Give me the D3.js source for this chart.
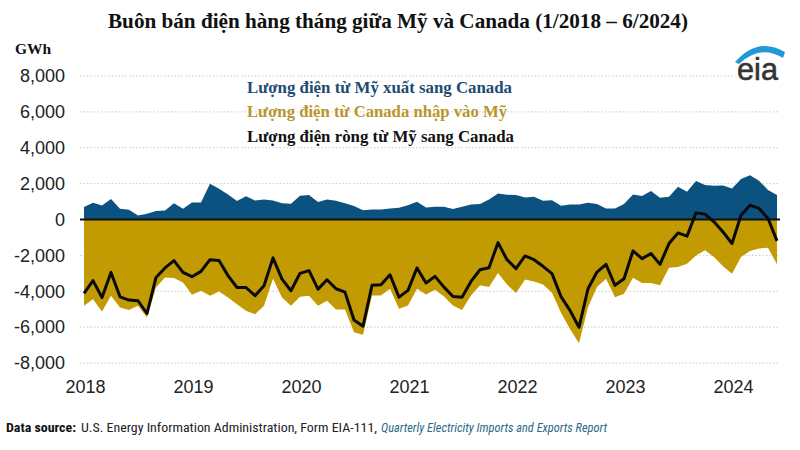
<!DOCTYPE html>
<html><head><meta charset="utf-8">
<script src="https://cdn.jsdelivr.net/npm/d3@7"></script>
<style>body{margin:0;background:#fff}svg{display:block}</style>
</head><body>
<svg id="c" width="800" height="450"></svg>
<script>
const startYear = 2018;
const yearLabels = ["2018","2019","2020","2021","2022","2023","2024"];
const yTicks = [-8000,-6000,-4000,-2000,0,2000,4000,6000,8000];
// Monthly values, Jan 2018 – Jun 2024 (GWh)
const exportsUS = [690,930,780,1140,600,540,220,320,470,500,910,600,
  950,950,2000,1720,1400,1030,1290,1060,1120,1060,910,880,
  1330,1370,980,1120,1040,900,750,520,560,560,620,650,
  800,990,670,710,710,580,710,840,860,1120,1450,1380,
  1360,1230,1270,1040,1080,760,840,840,930,860,620,620,
  860,1400,1310,1590,1210,1270,1830,1550,2140,1920,1880,1900,
  1730,2260,2460,2160,1640,1360];
const importsCA = [-4810,-4440,-5130,-4250,-4900,-5050,-4810,-5460,-3790,-3230,-3260,-3510,
  -4200,-3970,-4250,-4010,-4350,-4720,-5090,-5280,-4810,-3300,-4350,-4810,
  -4310,-4250,-4810,-4530,-5020,-5020,-6290,-6420,-4230,-4230,-3860,-4980,
  -4790,-3860,-4180,-3920,-4290,-4790,-5040,-4230,-3670,-3770,-2980,-3620,
  -4100,-3340,-3450,-3620,-4080,-5200,-6100,-6900,-4890,-3770,-3300,-4330,
  -4140,-3250,-3540,-3540,-3670,-2690,-2650,-2460,-2000,-1720,-2090,-2610,
  -3020,-2090,-1750,-1620,-1570,-2500];
const netFlow = [-4120,-3410,-4350,-2950,-4310,-4490,-4530,-5240,-3230,-2700,-2290,-2950,
  -3190,-2890,-2240,-2290,-3130,-3790,-3790,-4250,-3690,-2140,-3320,-3970,
  -3000,-2850,-3880,-3360,-3860,-4050,-5600,-5950,-3670,-3640,-3080,-4330,
  -3950,-2700,-3540,-3170,-3770,-4290,-4330,-3450,-2800,-2690,-1290,-2240,
  -2740,-2030,-2240,-2610,-3020,-4300,-5070,-6010,-3860,-2930,-2500,-3670,
  -3300,-1750,-2180,-1900,-2500,-1340,-750,-930,370,300,-130,-690,
  -1340,240,800,620,60,-1190];
const legendLabels = ["Lượng điện từ Mỹ xuất sang Canada","Lượng điện từ Canada nhập vào Mỹ","Lượng điện ròng từ Mỹ sang Canada"];

const svg = d3.select("#c");
const x = d3.scaleLinear().domain([0, exportsUS.length-1]).range([84, 777]);
const y = d3.scaleLinear().domain([-8000, 8000]).range([363, 76]);

// title
svg.append("text").attr("x",398).attr("y",28).attr("text-anchor","middle")
  .attr("font-family","'Liberation Serif','Times New Roman',serif").attr("font-weight","bold")
  .attr("font-size",21).attr("textLength",580).attr("lengthAdjust","spacingAndGlyphs")
  .attr("fill","#111").text("Buôn bán điện hàng tháng giữa Mỹ và Canada (1/2018 – 6/2024)");
svg.append("text").attr("x",15).attr("y",54)
  .attr("font-family","'Liberation Serif','Times New Roman',serif").attr("font-weight","bold")
  .attr("font-size",15.5).attr("fill","#111").text("GWh");

// grid
const gridG = svg.append("g");
gridG.selectAll("line").data(yTicks.filter(d=>d!==0)).join("line")
  .attr("x1",80).attr("x2",780).attr("y1",d=>y(d)).attr("y2",d=>y(d))
  .attr("stroke","#c8c8c8").attr("stroke-width",1).attr("stroke-dasharray","1.5,2");

// y axis labels
const yAxis = d3.axisLeft(y).tickValues(yTicks).tickSize(0).tickPadding(0)
  .tickFormat(d=> d3.format(",")(d).replace("−","-"));
const yg = svg.append("g").attr("transform","translate(65,0)").call(yAxis);
yg.select(".domain").remove();
yg.selectAll("text").attr("font-family","'Liberation Sans',Arial,sans-serif").attr("font-size",18).attr("fill","#222");

// x axis labels
const xAxis = d3.axisBottom(x).tickValues(yearLabels.map((d,i)=>i*12)).tickSize(0).tickPadding(0)
  .tickFormat((d,i)=>yearLabels[i]);
const xg = svg.append("g").attr("transform","translate(1,380)").call(xAxis);
xg.select(".domain").remove();
xg.selectAll("text").attr("font-family","'Liberation Sans',Arial,sans-serif").attr("font-size",18).attr("fill","#222");

// areas
const areaExp = d3.area().x((d,i)=>x(i)).y0(y(0)).y1(d=>y(d));
svg.append("path").datum(exportsUS).attr("d",areaExp).attr("fill","#0c5280");
svg.append("path").datum(importsCA).attr("d",areaExp).attr("fill","#c29a02");

// zero line
svg.append("line").attr("x1",80).attr("x2",780).attr("y1",y(0)).attr("y2",y(0))
  .attr("stroke","#111").attr("stroke-width",2);

// net line
const line = d3.line().x((d,i)=>x(i)).y(d=>y(d));
svg.append("path").datum(netFlow).attr("d",line).attr("fill","none")
  .attr("stroke","#0a0a0a").attr("stroke-width",3).attr("stroke-linejoin","round");

// legend
const legColors = ["#1b4b72","#b8962a","#111"];
const legY = [93,117,142];
const legW = [265,260,267];
legendLabels.forEach((t,i)=>{
  svg.append("text").attr("x",247).attr("y",legY[i])
    .attr("font-family","'Liberation Serif','Times New Roman',serif").attr("font-weight","bold")
    .attr("font-size",16.5).attr("textLength",legW[i]).attr("lengthAdjust","spacingAndGlyphs")
    .attr("fill",legColors[i]).text(t);
});

// eia logo
const logo = svg.append("g");
logo.append("rect").attr("x",734).attr("y",40).attr("width",60).attr("height",44).attr("fill","#fff");
logo.append("path").attr("d","M735,62 Q758,36 785,52 L783,58 Q760,44 739,64 Z").attr("fill","#1f9ad6");
logo.append("text").attr("x",737).attr("y",80)
  .attr("font-family","'Liberation Sans',Arial,sans-serif").attr("font-size",32)
  .attr("textLength",41).attr("lengthAdjust","spacingAndGlyphs")
  .attr("fill","#333").attr("stroke","#333").attr("stroke-width",0.6).text("eia");

// footer
const ff = "'Liberation Sans Narrow','Roboto Condensed','Arial Narrow',sans-serif";
svg.append("text").attr("x",6).attr("y",432).attr("font-family",ff).attr("font-weight","bold")
  .attr("font-size",12).attr("fill","#111").attr("textLength",70).attr("lengthAdjust","spacingAndGlyphs").text("Data source:");
svg.append("text").attr("x",81).attr("y",432).attr("font-family",ff)
  .attr("font-size",12).attr("fill","#222").attr("textLength",296).attr("lengthAdjust","spacingAndGlyphs")
  .text("U.S. Energy Information Administration, Form EIA-111,");
svg.append("text").attr("x",381).attr("y",432).attr("font-family",ff).attr("font-style","italic")
  .attr("font-size",12).attr("fill","#2b6a88").attr("textLength",226).attr("lengthAdjust","spacingAndGlyphs")
  .text("Quarterly Electricity Imports and Exports Report");
</script>
</body></html>
